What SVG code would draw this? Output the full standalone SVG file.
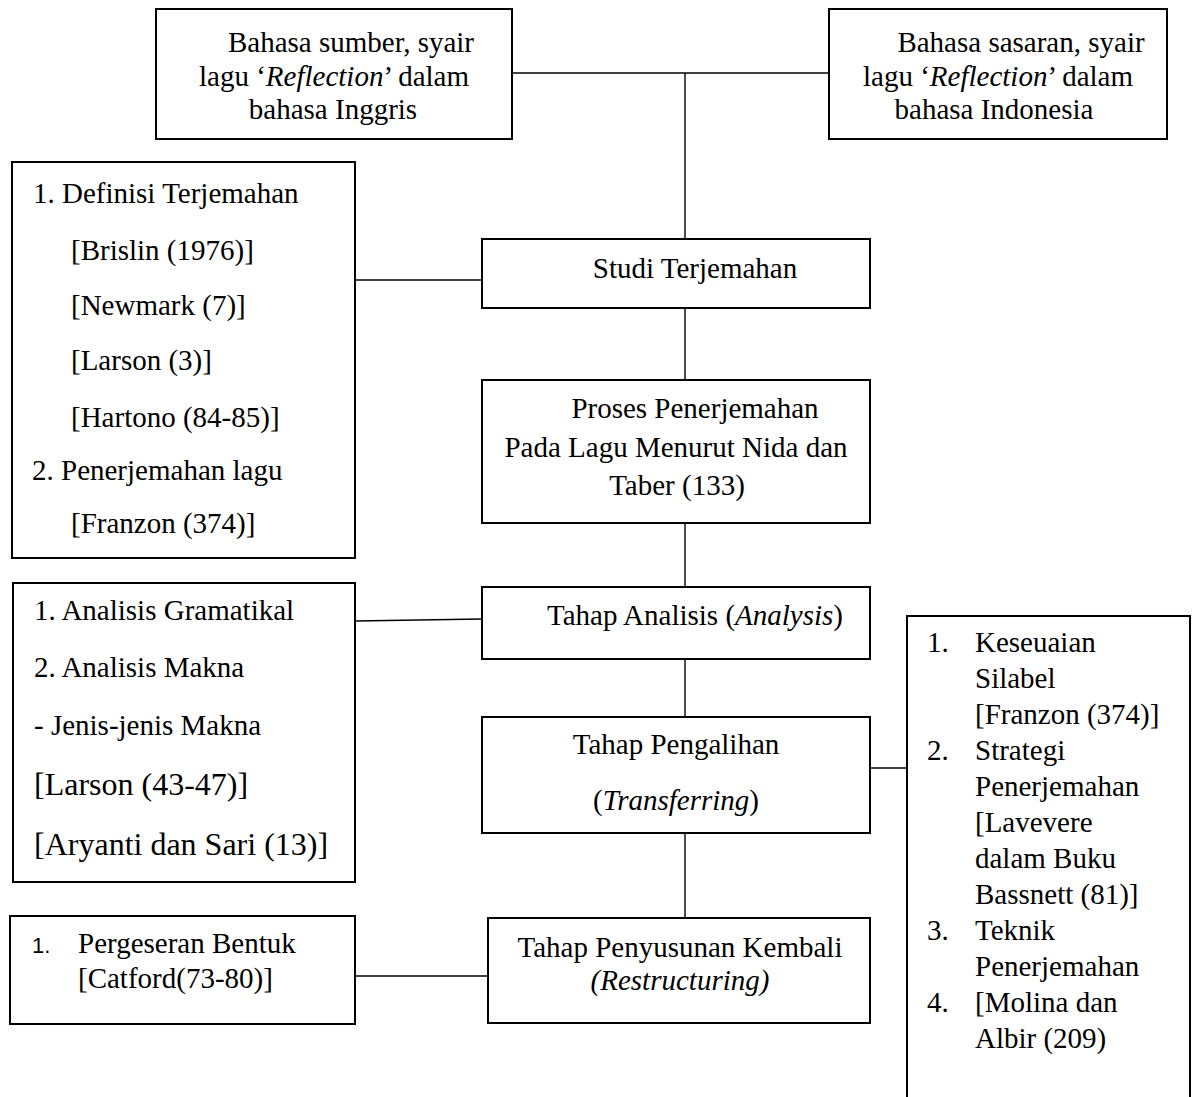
<svg xmlns="http://www.w3.org/2000/svg" width="1195" height="1097" viewBox="0 0 1195 1097">
<style>
  .box { fill: #fff; stroke: #000; stroke-width: 2; }
  .conn line { stroke: #000; stroke-width: 1.4; }
  text { font-family: "Liberation Serif", "Times New Roman", serif; font-size: 29px; fill: #000; }
  .c { text-anchor: middle; }
  .big { font-size: 32px; }
  .sans { font-family: "Liberation Sans", Arial, sans-serif; font-size: 22px; }
  .i { font-style: italic; }
</style>
<rect width="1195" height="1097" fill="#fff"/>

<g id="connectors" class="conn">
  <line x1="512" y1="73" x2="829" y2="73"/>
  <line x1="685" y1="73" x2="685" y2="239"/>
  <line x1="355" y1="280" x2="482" y2="280"/>
  <line x1="685" y1="308" x2="685" y2="380"/>
  <line x1="685" y1="523" x2="685" y2="587"/>
  <line x1="355" y1="621" x2="482" y2="619"/>
  <line x1="685" y1="659" x2="685" y2="717"/>
  <line x1="870" y1="768" x2="907" y2="768"/>
  <line x1="685" y1="833" x2="685" y2="918"/>
  <line x1="355" y1="976" x2="488" y2="976"/>
</g>

<g id="sumber">
  <rect class="box" x="156" y="9" width="356" height="130"/>
  <text class="c" x="351" y="52">Bahasa sumber, syair</text>
  <text class="c" x="334" y="86">lagu ‘<tspan class="i">Reflection</tspan>’ dalam</text>
  <text class="c" x="333" y="119">bahasa Inggris</text>
</g>

<g id="sasaran">
  <rect class="box" x="829" y="9" width="338" height="130"/>
  <text class="c" x="1021" y="52">Bahasa sasaran, syair</text>
  <text class="c" x="998" y="86">lagu ‘<tspan class="i">Reflection</tspan>’ dalam</text>
  <text class="c" x="994" y="119">bahasa Indonesia</text>
</g>

<g id="teori">
  <rect class="box" x="12" y="162" width="343" height="396"/>
  <text x="33" y="203">1. Definisi Terjemahan</text>
  <text x="71" y="260">[Brislin (1976)]</text>
  <text x="71" y="315">[Newmark (7)]</text>
  <text x="71" y="370">[Larson (3)]</text>
  <text x="71" y="427">[Hartono (84-85)]</text>
  <text x="32" y="480">2. Penerjemahan lagu</text>
  <text x="71" y="533">[Franzon (374)]</text>
</g>

<g id="studi">
  <rect class="box" x="482" y="239" width="388" height="69"/>
  <text class="c" x="695" y="278">Studi Terjemahan</text>
</g>

<g id="proses">
  <rect class="box" x="482" y="380" width="388" height="143"/>
  <text class="c" x="695" y="418">Proses Penerjemahan</text>
  <text class="c" x="676" y="457">Pada Lagu Menurut Nida dan</text>
  <text class="c" x="677" y="495">Taber (133)</text>
</g>

<g id="analisis-detail">
  <rect class="box" x="13" y="583" width="342" height="299"/>
  <text x="34" y="620">1. Analisis Gramatikal</text>
  <text x="34" y="677">2. Analisis Makna</text>
  <text x="34" y="735">- Jenis-jenis Makna</text>
  <text class="big" x="34" y="795">[Larson (43-47)]</text>
  <text class="big" x="34" y="855">[Aryanti dan Sari (13)]</text>
</g>

<g id="analisis">
  <rect class="box" x="482" y="587" width="388" height="72"/>
  <text class="c" x="695" y="625">Tahap Analisis (<tspan class="i">Analysis</tspan>)</text>
</g>

<g id="pengalihan">
  <rect class="box" x="482" y="717" width="388" height="116"/>
  <text class="c" x="676" y="754">Tahap Pengalihan</text>
  <text class="c" x="676" y="810">(<tspan class="i">Transferring</tspan>)</text>
</g>

<g id="pengalihan-detail">
  <rect class="box" x="907" y="616" width="283" height="500"/>
  <text x="927" y="652">1.</text><text x="975" y="652">Keseuaian</text>
  <text x="975" y="688">Silabel</text>
  <text x="975" y="724">[Franzon (374)]</text>
  <text x="927" y="760">2.</text><text x="975" y="760">Strategi</text>
  <text x="975" y="796">Penerjemahan</text>
  <text x="975" y="832">[Lavevere</text>
  <text x="975" y="868">dalam Buku</text>
  <text x="975" y="904">Bassnett (81)]</text>
  <text x="927" y="940">3.</text><text x="975" y="940">Teknik</text>
  <text x="975" y="976">Penerjemahan</text>
  <text x="927" y="1012">4.</text><text x="975" y="1012">[Molina dan</text>
  <text x="975" y="1048">Albir (209)</text>
</g>

<g id="penyusunan">
  <rect class="box" x="488" y="918" width="382" height="105"/>
  <text class="c" x="680" y="957">Tahap Penyusunan Kembali</text>
  <text class="c i" x="680" y="990">(Restructuring)</text>
</g>

<g id="penyusunan-detail">
  <rect class="box" x="10" y="916" width="345" height="108"/>
  <text class="sans" x="32" y="953">1.</text>
  <text x="78" y="953">Pergeseran Bentuk</text>
  <text x="78" y="988">[Catford(73-80)]</text>
</g>
</svg>
